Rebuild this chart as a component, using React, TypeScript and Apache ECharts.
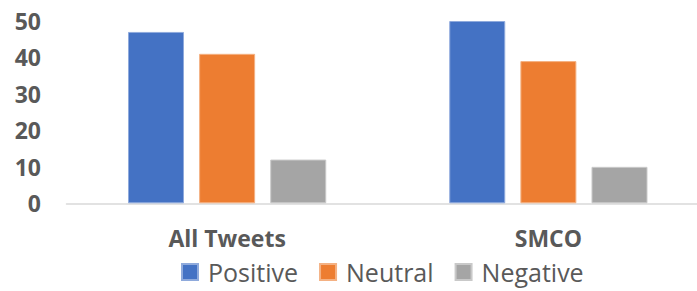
import React, { useEffect, useRef } from "react";
import * as echarts from "echarts";

const categories = ["All Tweets", "SMCO"];
const seriesNames = ["Positive", "Neutral", "Negative"];
const positive = [47, 50];
const neutral = [41, 39];
const negative = [12, 10];
const yTicks = { min: 0, max: 50, interval: 10 };

const colors = ["#4472C4", "#ED7D31", "#A5A5A5"];
const borders = ["#8FAADC", "#F4B183", "#C9C9C9"];
const FONT = "'Open Sans', 'Noto Sans', sans-serif";

export default function App() {
  const ref = useRef<HTMLDivElement>(null);
  useEffect(() => {
    if (!ref.current) return;
    const chart = echarts.init(ref.current, undefined, { renderer: "svg" });
    const data = [positive, neutral, negative];
    chart.setOption({
      animation: false,
      backgroundColor: "#ffffff",
      grid: { left: 66.5, right: 11, top: 21, bottom: 87.7 },
      legend: {
        left: 181,
        top: 257,
        padding: 0,
        itemWidth: 16,
        itemHeight: 16,
        itemGap: 21,
        icon: "rect",
        textStyle: { fontFamily: FONT, fontSize: 25, lineHeight: 30, color: "#595959", padding: [0, 0, 0, 5] },
        data: seriesNames,
      },
      xAxis: {
        type: "category",
        data: categories,
        axisLine: { lineStyle: { color: "#D9D9D9", width: 1.5 } },
        axisTick: { show: false },
        axisLabel: {
          margin: 23,
          fontFamily: FONT,
          fontSize: 23,
          fontWeight: "bold",
          color: "#595959",
        },
      },
      yAxis: {
        type: "value",
        min: yTicks.min,
        max: yTicks.max,
        interval: yTicks.interval,
        splitLine: { show: false },
        axisLine: { show: false },
        axisTick: { show: false },
        axisLabel: {
          margin: 25.5,
          fontFamily: FONT,
          fontSize: 23,
          fontWeight: "bold",
          color: "#595959",
        },
      },
      series: seriesNames.map((name, i) => ({
        name,
        type: "bar",
        data: data[i],
        barWidth: 56,
        barGap: "27%",
        itemStyle: { color: colors[i], borderColor: borders[i], borderWidth: 1 },
      })),
    });
    return () => chart.dispose();
  }, []);
  return (
    <div style={{ position: "fixed", left: 0, top: 0, width: 697, height: 291, overflow: "hidden", background: "#fff" }}>
      <div ref={ref} style={{ width: 720, height: 291 }} />
    </div>
  );
}
